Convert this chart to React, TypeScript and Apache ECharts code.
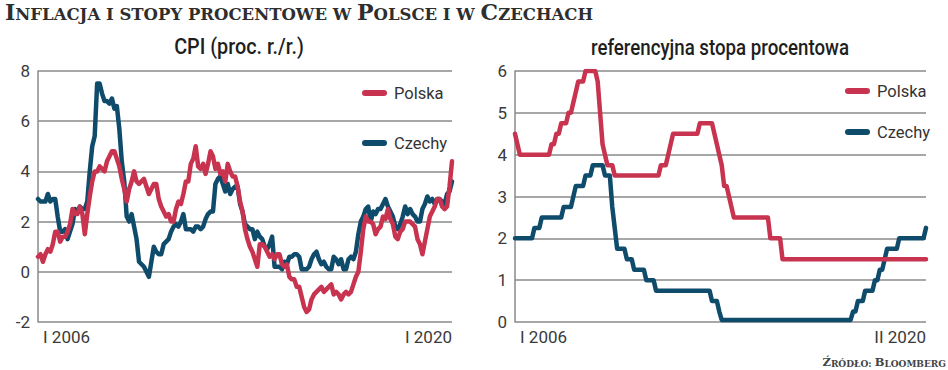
import React, { useEffect, useRef } from "react";
import * as echarts from "echarts";

// ---------- data ----------
const ROMAN = ["I", "II", "III", "IV", "V", "VI", "VII", "VIII", "IX", "X", "XI", "XII"];

// CPI, y/y %, monthly I 2006 – I 2020
const cpiPolska = [
  0.6, 0.7, 0.4, 0.7, 0.9, 0.8, 1.1, 1.6, 1.6, 1.2, 1.4, 1.4,
  1.6, 1.9, 2.5, 2.3, 2.3, 2.6, 2.3, 1.5, 2.3, 3.0, 3.6, 4.0,
  4.0, 4.2, 4.1, 4.0, 4.4, 4.6, 4.8, 4.8, 4.5, 4.2, 3.7, 3.3,
  2.8, 3.3, 3.6, 4.0, 3.6, 3.5, 3.6, 3.7, 3.4, 3.1, 3.3, 3.5,
  3.5, 2.9, 2.6, 2.4, 2.2, 2.3, 2.0, 2.0, 2.5, 2.8, 2.7, 3.1,
  3.6, 3.6, 4.3, 4.5, 5.0, 4.2, 4.1, 4.3, 3.9, 4.3, 4.8, 4.6,
  4.1, 4.3, 3.9, 4.0, 3.6, 4.3, 4.0, 3.8, 3.8, 3.4, 2.8, 2.4,
  1.7, 1.3, 1.0, 0.8, 0.5, 0.2, 1.1, 1.1, 1.0, 0.8, 0.6, 0.7,
  0.5, 0.7, 0.7, 0.3, 0.2, 0.3, -0.2, -0.3, -0.3, -0.6, -0.6, -1.0,
  -1.4, -1.6, -1.5, -1.1, -0.9, -0.8, -0.7, -0.6, -0.8, -0.7, -0.6, -0.5,
  -0.9, -0.8, -0.9, -1.1, -0.9, -0.8, -0.9, -0.8, -0.5, -0.2, 0.0, 0.8,
  1.7, 2.2, 2.0, 2.0, 1.9, 1.5, 1.7, 1.8, 2.2, 2.1, 2.5, 2.1,
  1.9, 1.4, 1.3, 1.6, 1.7, 2.0, 2.0, 2.0, 1.9, 1.8, 1.3, 1.1,
  0.7, 1.2, 1.7, 2.2, 2.4, 2.6, 2.9, 2.9, 2.6, 2.5, 2.6, 3.4,
  4.4,
];

const cpiCzechy = [
  2.9, 2.8, 2.8, 2.8, 3.1, 2.8, 2.9, 2.9, 2.2, 1.6, 1.6, 1.7,
  1.3, 1.6, 1.9, 2.5, 2.4, 2.6, 2.5, 2.5, 2.8, 4.0, 5.0, 5.4,
  7.5, 7.5, 7.1, 6.8, 6.8, 6.7, 6.9, 6.5, 6.6, 5.7, 4.4, 3.6,
  2.2, 2.0, 2.3, 1.8, 1.3, 0.4, 0.3, 0.2, 0.0, -0.2, 0.4, 1.0,
  0.8, 0.7, 0.7, 1.1, 1.2, 1.3, 1.6, 1.8, 1.9, 1.8, 2.0, 2.3,
  1.7, 1.7, 1.7, 1.6, 1.8, 1.8, 1.7, 1.8, 2.1, 2.3, 2.4, 2.4,
  3.5, 3.7, 3.8, 3.5, 3.2, 3.5, 3.1, 3.3, 3.4, 3.4, 2.7, 2.4,
  1.9, 1.8, 1.7, 1.7, 1.3, 1.6, 1.4, 1.3, 1.0, 0.9, 1.1, 1.4,
  0.2, 0.2, 0.2, 0.1, 0.4, 0.3, 0.6, 0.6, 0.7, 0.7, 0.6, 0.1,
  0.1, 0.1, 0.2, 0.5, 0.7, 0.8, 0.5, 0.3, 0.4, 0.2, 0.1, 0.1,
  0.6, 0.5, 0.3, 0.5, 0.1, 0.1, 0.5, 0.6, 0.5, 0.8, 1.5, 2.0,
  2.2, 2.5, 2.6, 2.0, 2.4, 2.3, 2.5, 2.5, 2.7, 2.9, 2.6, 2.4,
  2.2, 1.8, 1.7, 1.9, 2.2, 2.6, 2.3, 2.5, 2.3, 2.2, 2.0, 2.0,
  2.5, 2.7, 3.0, 2.8, 2.9, 2.7, 2.9, 2.9, 2.8, 2.7, 3.1, 3.2,
  3.6,
];

// reference interest rate, %, monthly I 2006 – II 2020
const ratePolska = [
  4.5, 4.25, 4.0, 4.0, 4.0, 4.0, 4.0, 4.0, 4.0, 4.0, 4.0, 4.0,
  4.0, 4.0, 4.0, 4.25, 4.25, 4.5, 4.5, 4.75, 4.75, 4.75, 5.0, 5.0,
  5.25, 5.5, 5.75, 5.75, 5.75, 6.0, 6.0, 6.0, 6.0, 6.0, 5.75, 5.0,
  4.25, 4.0, 3.75, 3.75, 3.75, 3.5, 3.5, 3.5, 3.5, 3.5, 3.5, 3.5,
  3.5, 3.5, 3.5, 3.5, 3.5, 3.5, 3.5, 3.5, 3.5, 3.5, 3.5, 3.5,
  3.75, 3.75, 3.75, 4.0, 4.25, 4.5, 4.5, 4.5, 4.5, 4.5, 4.5, 4.5,
  4.5, 4.5, 4.5, 4.5, 4.75, 4.75, 4.75, 4.75, 4.75, 4.75, 4.5, 4.25,
  4.0, 3.75, 3.25, 3.25, 3.0, 2.75, 2.5, 2.5, 2.5, 2.5, 2.5, 2.5,
  2.5, 2.5, 2.5, 2.5, 2.5, 2.5, 2.5, 2.5, 2.5, 2.0, 2.0, 2.0,
  2.0, 2.0, 1.5, 1.5, 1.5, 1.5, 1.5, 1.5, 1.5, 1.5, 1.5, 1.5,
  1.5, 1.5, 1.5, 1.5, 1.5, 1.5, 1.5, 1.5, 1.5, 1.5, 1.5, 1.5,
  1.5, 1.5, 1.5, 1.5, 1.5, 1.5, 1.5, 1.5, 1.5, 1.5, 1.5, 1.5,
  1.5, 1.5, 1.5, 1.5, 1.5, 1.5, 1.5, 1.5, 1.5, 1.5, 1.5, 1.5,
  1.5, 1.5, 1.5, 1.5, 1.5, 1.5, 1.5, 1.5, 1.5, 1.5, 1.5, 1.5,
  1.5, 1.5,
];

const rateCzechy = [
  2.0, 2.0, 2.0, 2.0, 2.0, 2.0, 2.0, 2.0, 2.25, 2.25, 2.25, 2.5,
  2.5, 2.5, 2.5, 2.5, 2.5, 2.5, 2.5, 2.5, 2.75, 2.75, 2.75, 2.75,
  3.0, 3.25, 3.25, 3.25, 3.25, 3.5, 3.5, 3.5, 3.75, 3.75, 3.75, 3.75,
  3.75, 3.5, 3.5, 3.5, 2.75, 2.25, 1.75, 1.75, 1.75, 1.75, 1.5, 1.5,
  1.5, 1.25, 1.25, 1.25, 1.25, 1.25, 1.0, 1.0, 1.0, 1.0, 0.75, 0.75,
  0.75, 0.75, 0.75, 0.75, 0.75, 0.75, 0.75, 0.75, 0.75, 0.75, 0.75, 0.75,
  0.75, 0.75, 0.75, 0.75, 0.75, 0.75, 0.75, 0.75, 0.75, 0.5, 0.5, 0.5,
  0.25, 0.05, 0.05, 0.05, 0.05, 0.05, 0.05, 0.05, 0.05, 0.05, 0.05, 0.05,
  0.05, 0.05, 0.05, 0.05, 0.05, 0.05, 0.05, 0.05, 0.05, 0.05, 0.05, 0.05,
  0.05, 0.05, 0.05, 0.05, 0.05, 0.05, 0.05, 0.05, 0.05, 0.05, 0.05, 0.05,
  0.05, 0.05, 0.05, 0.05, 0.05, 0.05, 0.05, 0.05, 0.05, 0.05, 0.05, 0.05,
  0.05, 0.05, 0.05, 0.05, 0.05, 0.05, 0.05, 0.25, 0.25, 0.5, 0.5, 0.5,
  0.75, 0.75, 0.75, 0.75, 1.0, 1.0, 1.25, 1.25, 1.5, 1.75, 1.75, 1.75,
  1.75, 1.75, 2.0, 2.0, 2.0, 2.0, 2.0, 2.0, 2.0, 2.0, 2.0, 2.0,
  2.0, 2.25,
];

const cpiMonths: string[] = [];
for (let i = 0; i < cpiPolska.length; i++) cpiMonths.push(`${ROMAN[i % 12]} ${2006 + Math.floor(i / 12)}`);
const rateMonths: string[] = [];
for (let i = 0; i < ratePolska.length; i++) rateMonths.push(`${ROMAN[i % 12]} ${2006 + Math.floor(i / 12)}`);

const cpiAxis = { min: -2, max: 8, interval: 2 };
const rateAxis = { min: 0, max: 6, interval: 1 };

const TITLE = "Inflacja i stopy procentowe w Polsce i w Czechach";
const SUB_LEFT = "CPI (proc. r./r.)";
const SUB_RIGHT = "referencyjna stopa procentowa";
const SOURCE = "Źródło: Bloomberg";

// ---------- styles ----------
const RED = "#c8334f";
const BLUE = "#0f4b6b";
const GRID_COLOR = "#8a8a8a";
const LABEL_COLOR = "#3a3a3a";
const SANS = "Roboto, 'Noto Sans', sans-serif";
const SERIF = "'DejaVu Serif', 'Liberation Serif', serif";
const CAPSULE = "path://M3 0H22A3 3 0 0 1 22 6H3A3 3 0 0 1 3 0Z";

function smallCaps(s: string): string {
  let out = "";
  let cur = "";
  let curType = "";
  for (const ch of s) {
    const isBig = ch !== ch.toLowerCase();
    const t = isBig ? "b" : "s";
    if (t !== curType && cur) {
      out += `{${curType}|${cur}}`;
      cur = "";
    }
    curType = t;
    cur += ch.toUpperCase();
  }
  if (cur) out += `{${curType}|${cur}}`;
  return out;
}

function buildOption() {
  const lastCpi = cpiMonths.length - 1;
  const lastRate = rateMonths.length - 1;
  const axisText = { fontFamily: SANS, fontSize: 17, color: LABEL_COLOR };

  const xAxisBase = (gridIndex: number, data: string[], last: number) => ({
    type: "category",
    gridIndex,
    data,
    boundaryGap: false,
    axisLine: { show: false },
    axisTick: { show: false },
    splitLine: { show: false },
    axisLabel: {
      ...axisText,
      margin: 6,
      interval: (i: number) => i === 0 || i === last,
      alignMinLabel: "left",
      alignMaxLabel: "right",
      padding: [0, 0, 0, 5],
    },
  });

  const yAxisBase = (gridIndex: number, ax: { min: number; max: number; interval: number }) => ({
    type: "value",
    gridIndex,
    min: ax.min,
    max: ax.max,
    interval: ax.interval,
    axisLine: { show: true, lineStyle: { color: GRID_COLOR, width: 1.5 } },
    axisTick: { show: false },
    splitLine: { show: true, lineStyle: { color: GRID_COLOR, width: 1.5 } },
    axisLabel: { ...axisText, margin: 8 },
  });

  const line = (name: string, color: string, xi: number, data: number[]) => ({
    type: "line",
    name,
    xAxisIndex: xi,
    yAxisIndex: xi,
    data,
    symbol: "none",
    showSymbol: false,
    itemStyle: { color },
    lineStyle: { color, width: 4.5, join: "round", cap: "round" },
    emphasis: { disabled: true },
  });

  const legend = (name: string, left: number, top: number) => ({
    data: [name],
    left,
    top,
    padding: 0,
    icon: CAPSULE,
    itemWidth: 25,
    itemHeight: 6,
    itemStyle: { borderWidth: 0 },
    selectedMode: false,
    textStyle: { fontFamily: SANS, fontSize: 16.5, color: "#333", lineHeight: 20, padding: [0, 0, 0, 2] },
  });

  const richTitle = {
    b: { fontFamily: SERIF, fontWeight: "bold", fontSize: 22, lineHeight: 22, verticalAlign: "bottom", fill: "#2e2e2e" },
    s: { fontFamily: SERIF, fontWeight: "bold", fontSize: 16.5, lineHeight: 22, verticalAlign: "bottom", fill: "#2e2e2e" },
  };
  const richSource = {
    b: { fontFamily: SERIF, fontWeight: "bold", fontSize: 11.5, lineHeight: 12, verticalAlign: "bottom", fill: "#444" },
    s: { fontFamily: SERIF, fontWeight: "bold", fontSize: 9, lineHeight: 12, verticalAlign: "bottom", fill: "#444" },
  };

  return {
    animation: false,
    backgroundColor: "#ffffff",
    grid: [
      { left: 38, top: 71, width: 414, height: 251, outerBoundsMode: "none" },
      { left: 515, top: 71, width: 411, height: 251, outerBoundsMode: "none" },
    ],
    xAxis: [xAxisBase(0, cpiMonths, lastCpi), xAxisBase(1, rateMonths, lastRate)],
    yAxis: [yAxisBase(0, cpiAxis), yAxisBase(1, rateAxis)],
    legend: [
      legend("Polska", 362, 83),
      legend("Czechy", 362, 133),
      legend("Polska", 845, 81),
      legend("Czechy", 845, 122),
    ],
    series: [
      line("Czechy", BLUE, 0, cpiCzechy),
      line("Polska", RED, 0, cpiPolska),
      line("Czechy", BLUE, 1, rateCzechy),
      line("Polska", RED, 1, ratePolska),
    ],
    graphic: [
      {
        type: "text",
        x: 5,
        y: 1,
        style: { text: smallCaps(TITLE), rich: richTitle, fill: "#2e2e2e" },
      },
      {
        type: "text",
        x: 239,
        y: 47,
        scaleX: 0.9,
        style: { text: SUB_LEFT, align: "center", verticalAlign: "middle", fontFamily: SANS, fontWeight: 500, fontSize: 22, fill: "#1e1e1e" },
      },
      {
        type: "text",
        x: 720,
        y: 47,
        scaleX: 0.85,
        style: { text: SUB_RIGHT, align: "center", verticalAlign: "middle", fontFamily: SANS, fontWeight: 500, fontSize: 22, fill: "#1e1e1e" },
      },
      {
        type: "text",
        x: 946,
        y: 356,
        style: { text: smallCaps(SOURCE), rich: richSource, align: "right", fill: "#444" },
      },
    ],
  };
}

export default function App() {
  const ref = useRef<HTMLDivElement>(null);
  useEffect(() => {
    if (!ref.current) return;
    const chart = echarts.init(ref.current, null, { renderer: "svg" });
    chart.setOption(buildOption() as any);
    return () => chart.dispose();
  }, []);
  return (
    <div
      ref={ref}
      style={{ position: "absolute", left: 0, top: 0, width: 948, height: 370, background: "#fff" }}
    />
  );
}
